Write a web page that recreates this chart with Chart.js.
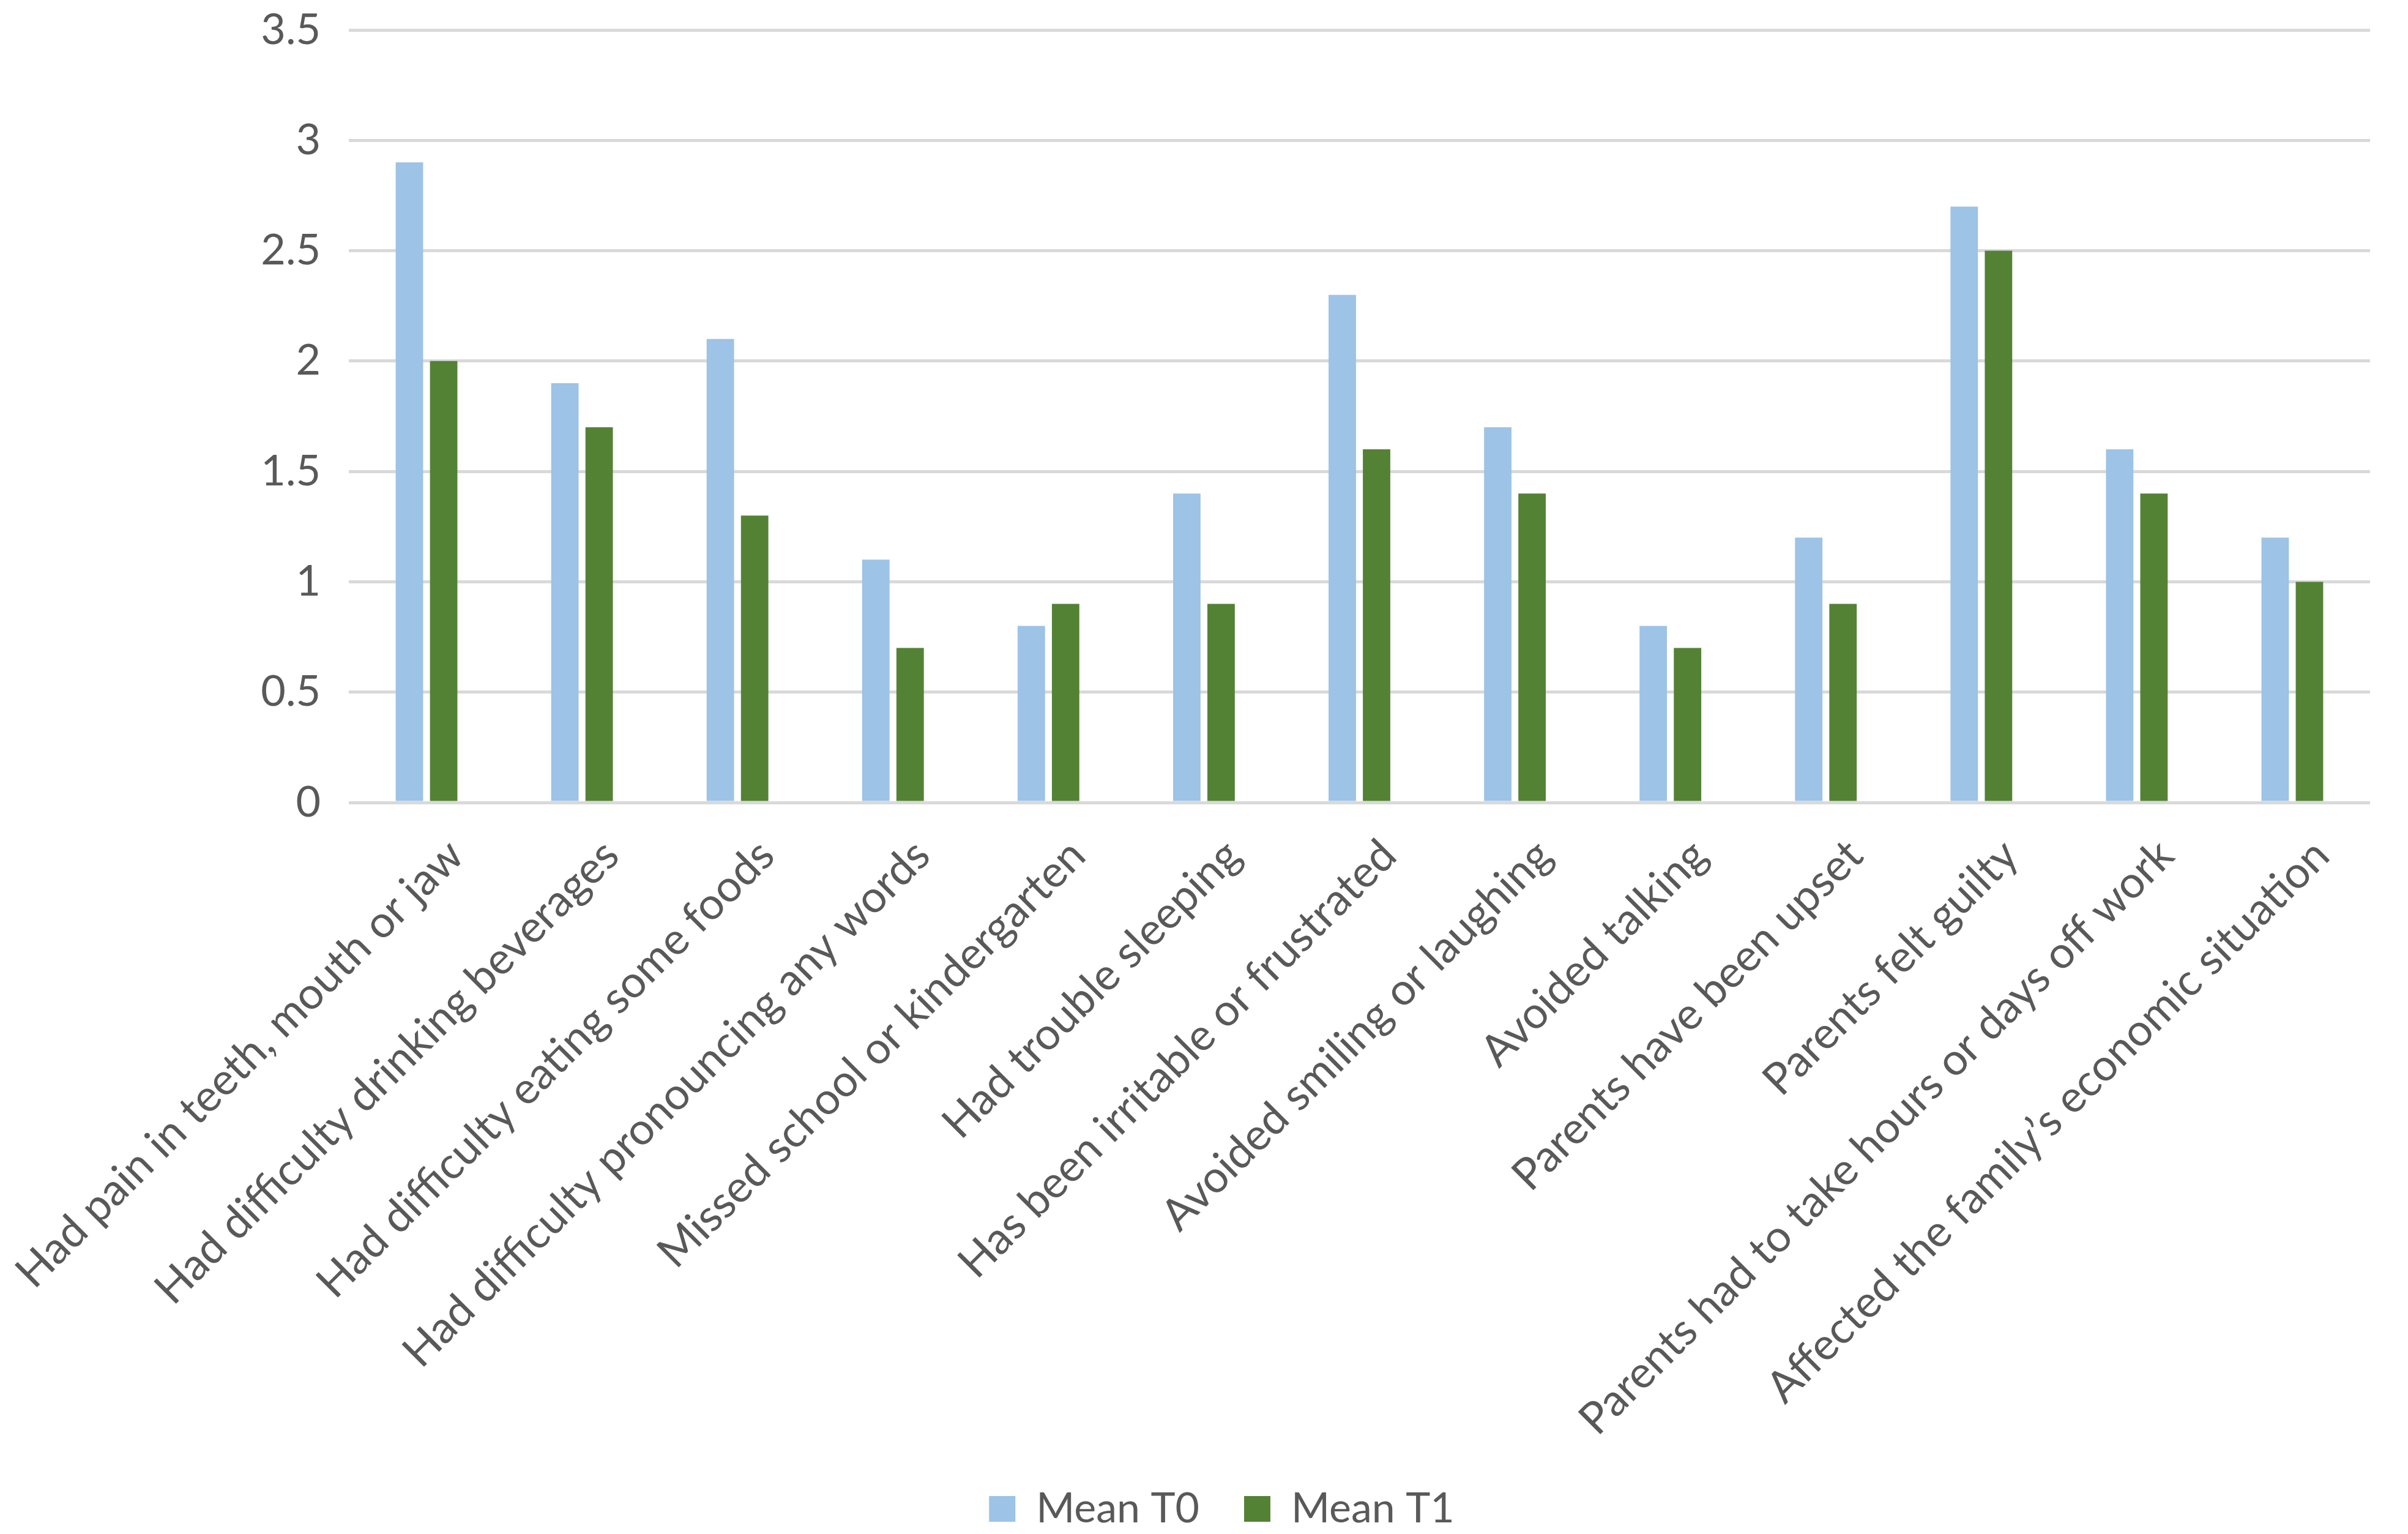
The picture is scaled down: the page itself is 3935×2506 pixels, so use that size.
<!DOCTYPE html>
<html>
<head>
<meta charset="utf-8">
<script src="https://cdn.jsdelivr.net/npm/chart.js@4"></script>
<style>
  html, body { margin: 0; padding: 0; background: #fff; }
  canvas { display: block; }
</style>
</head>
<body>
<canvas id="chart" width="3935" height="2506"></canvas>
<script>
const categories = [
  'Had pain in teeth, mouth or jaw',
  'Had difficulty drinking beverages',
  'Had difficulty eating some foods',
  'Had difficulty pronouncing any words',
  'Missed school or kindergarten',
  'Had trouble sleeping',
  'Has been irritable or frustrated',
  'Avoided smiling or laughing',
  'Avoided talking',
  'Parents have been upset',
  'Parents felt guilty',
  'Parents had to take hours or days off work',
  'Affected the family\u2019s economic situation'
];
const meanT0 = [2.9, 1.9, 2.1, 1.1, 0.8, 1.4, 2.3, 1.7, 0.8, 1.2, 2.7, 1.6, 1.2];
const meanT1 = [2.0, 1.7, 1.3, 0.7, 0.9, 0.9, 1.6, 1.4, 0.7, 0.9, 2.5, 1.4, 1.0];

const textColor = '#595959';
const fontFamily = 'Lato, "Open Sans", sans-serif';

const ctx = document.getElementById('chart').getContext('2d');
new Chart(ctx, {
  type: 'bar',
  data: {
    labels: categories,
    datasets: [
      {
        label: 'Mean T0',
        data: meanT0,
        backgroundColor: '#9DC3E6',
        categoryPercentage: 0.441,
        barPercentage: 0.8
      },
      {
        label: 'Mean T1',
        data: meanT1,
        backgroundColor: '#548235',
        categoryPercentage: 0.441,
        barPercentage: 0.8
      }
    ]
  },
  options: {
    responsive: false,
    devicePixelRatio: 1,
    animation: false,
    layout: {
      // left padding only nudges the legend to the right; y axis keeps plot at x=570
      padding: { top: 49, left: 120, right: 62, bottom: -3 }
    },
    scales: {
      x: {
        grid: { display: false, drawTicks: false },
        border: { display: false },
        ticks: {
          color: textColor,
          font: { family: fontFamily, size: 72 },
          maxRotation: 45,
          minRotation: 45,
          autoSkip: false,
          padding: 44,
          labelOffset: 48
        },
        afterFit: (scale) => {
          scale.height = 1047;
          scale.paddingLeft = 0;
          scale.paddingRight = 0;
        }
      },
      y: {
        min: 0,
        max: 3.5,
        grid: {
          color: '#D9D9D9',
          lineWidth: 5,
          drawTicks: false
        },
        border: { display: false },
        ticks: {
          stepSize: 0.5,
          color: textColor,
          font: { family: fontFamily, size: 70 },
          padding: 46,
          callback: (v) => String(Number(v))
        },
        afterFit: (scale) => {
          scale.width = 450;
          scale.paddingTop = 0;
          scale.paddingBottom = 0;
        }
      }
    },
    plugins: {
      legend: {
        position: 'bottom',
        labels: {
          color: textColor,
          font: { family: fontFamily, size: 68 },
          boxWidth: 43,
          boxHeight: 42,
          padding: 73
        }
      },
      tooltip: { enabled: false }
    }
  }
});
</script>
</body>
</html>
